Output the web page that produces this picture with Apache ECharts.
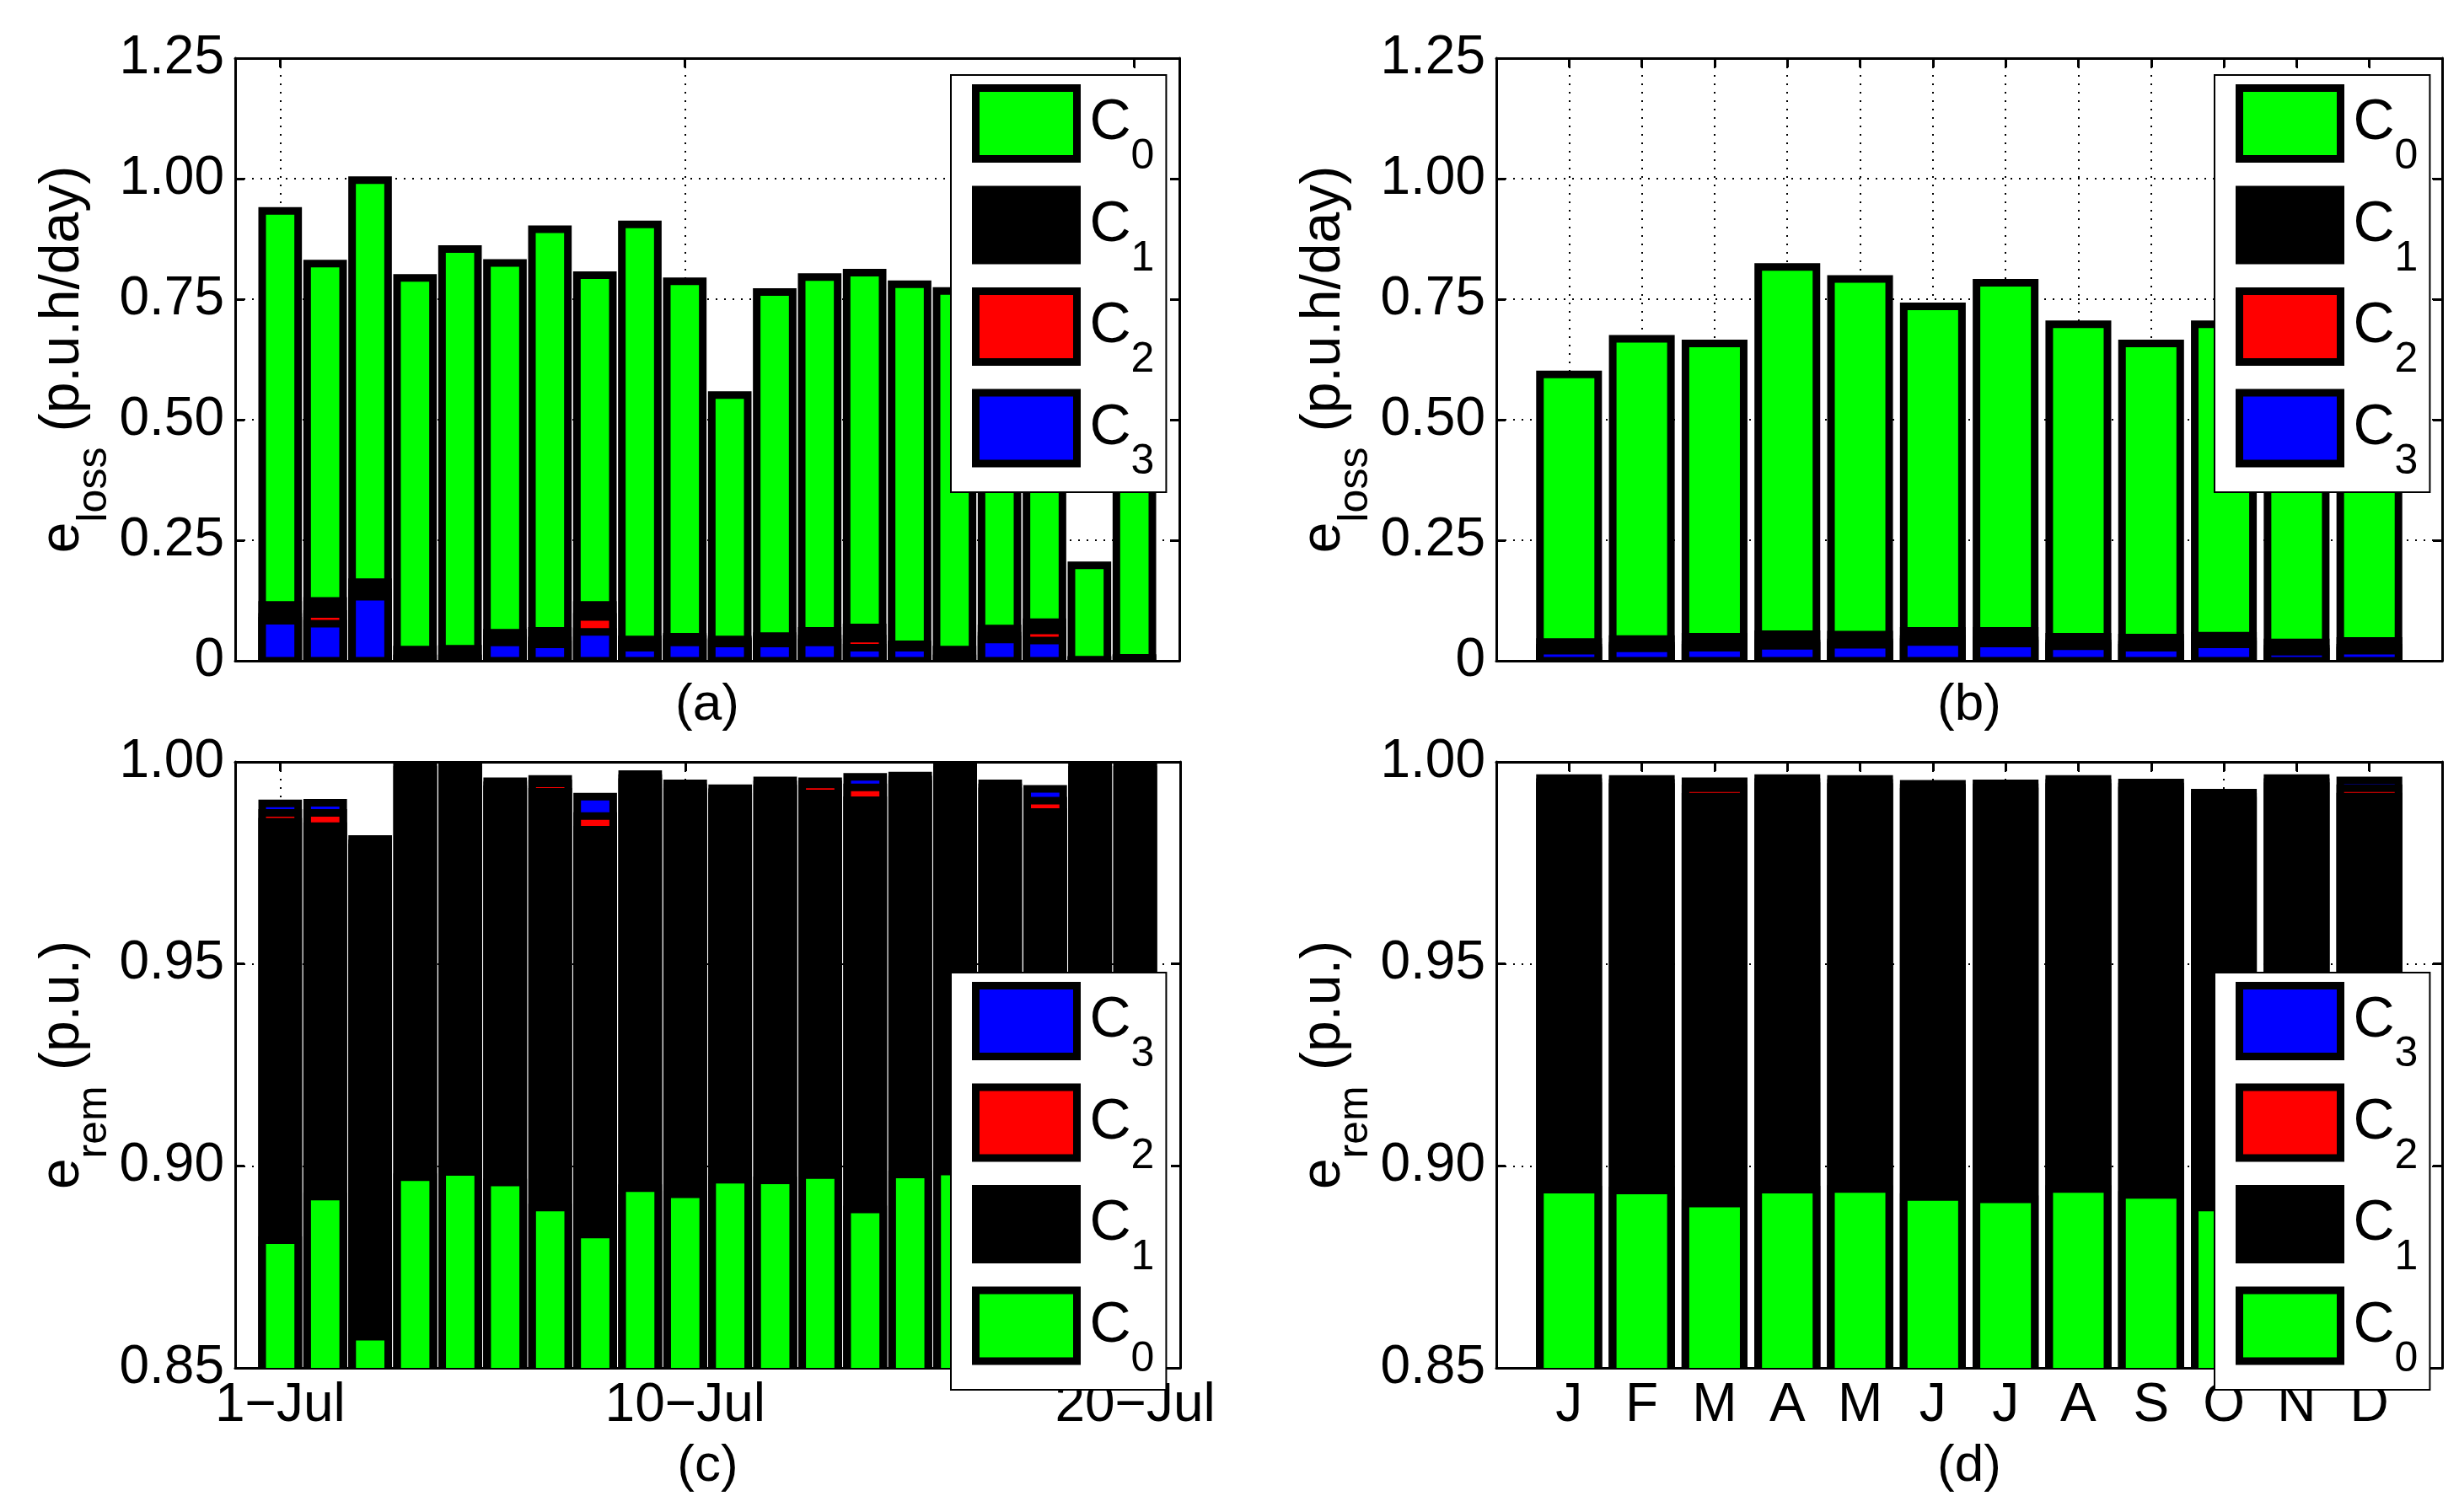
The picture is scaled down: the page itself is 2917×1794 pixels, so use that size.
<!DOCTYPE html>
<html lang="en">
<head>
  <meta charset="UTF-8">
  <title>e_loss / e_rem</title>
  <script src="https://cdnjs.cloudflare.com/ajax/libs/echarts/6.0.0/echarts.min.js"></script>
  <style>
    html, body { margin: 0; padding: 0; background: #fff; }
  </style>
</head>
<body>
  <div id="main" style="width: 2917px;height:1794px;"></div>
<script type="text/javascript">
  // categories and tick labels
  var days = ['1', '2', '3', '4', '5', '6', '7', '8', '9', '10',
              '11', '12', '13', '14', '15', '16', '17', '18', '19', '20'];
  var dayTicks = ['1', '10', '20'];
  var dayTickLabels = ['1\u2212Jul', '10\u2212Jul', '20\u2212Jul'];
  var months = ['J', 'F', 'M', 'A', 'M', 'J', 'J', 'A', 'S', 'O', 'N', 'D'];
  var lossTicks = [0, 0.25, 0.5, 0.75, 1.0, 1.25];
  var remTicks = [0.85, 0.90, 0.95, 1.00];

  // (a) daily e_loss, cumulative per class
  var lossDayC0 = [0.933, 0.824, 0.997, 0.794, 0.854, 0.825, 0.895, 0.800, 0.905, 0.787,
                   0.551, 0.765, 0.796, 0.805, 0.781, 0.767, 0.790, 0.770, 0.198, 0.710];
  var lossDayC1 = [0.116, 0.124, 0.163, 0.023, 0.025, 0.058, 0.062, 0.116, 0.044, 0.050,
                   0.040, 0.051, 0.062, 0.069, 0.032, 0.023, 0.067, 0.080, 0.002, 0.006];
  var lossDayC2 = [0.091, 0.097, 0.141, 0.005, 0.005, 0.046, 0.042, 0.091, 0.034, 0.046,
                   0.044, 0.044, 0.046, 0.046, 0.034, 0.005, 0.052, 0.063, 0.001, 0.004];
  var lossDayC3 = [0.083, 0.077, 0.133, 0, 0, 0.038, 0.034, 0.060, 0.027, 0.038,
                   0.036, 0.036, 0.038, 0.027, 0.027, 0, 0.044, 0.042, 0, 0];

  // (b) monthly e_loss
  var lossMonC0 = [0.594, 0.668, 0.658, 0.817, 0.792, 0.735, 0.784, 0.698, 0.658, 0.698, 0.630, 0.660];
  var lossMonC1 = [0.039, 0.045, 0.050, 0.055, 0.054, 0.062, 0.062, 0.050, 0.048, 0.052, 0.038, 0.041];
  var lossMonC2 = [0.027, 0.031, 0.033, 0.036, 0.038, 0.045, 0.042, 0.036, 0.033, 0.040, 0.025, 0.027];
  var lossMonC3 = [0.021, 0.026, 0.027, 0.031, 0.033, 0.039, 0.036, 0.030, 0.027, 0.034, 0.019, 0.021];

  // (c) daily e_rem
  var remDayC3 = [0.9897, 0.9899, 0.9809, 1.0000, 1.0000, 0.9952, 0.9958, 0.9914, 0.9970, 0.9947,
                  0.9935, 0.9954, 0.9952, 0.9963, 0.9966, 1.0000, 0.9947, 0.9933, 1.0000, 1.0000];
  var remDayC2 = [0.9874, 0.9874, 0.9798, 0.9990, 0.9990, 0.9942, 0.9947, 0.9866, 0.9960, 0.9937,
                  0.9925, 0.9944, 0.9944, 0.9937, 0.9956, 0.9990, 0.9937, 0.9904, 0.9990, 0.9990];
  var remDayC1 = [0.9852, 0.9841, 0.9788, 0.9980, 0.9980, 0.9932, 0.9926, 0.9832, 0.9950, 0.9927,
                  0.9915, 0.9934, 0.9922, 0.9905, 0.9946, 0.9980, 0.9927, 0.9876, 0.9980, 0.9980];
  var remDayC0 = [0.8816, 0.8924, 0.8577, 0.8972, 0.8985, 0.8959, 0.8897, 0.8830, 0.8945, 0.8930,
                  0.8966, 0.8964, 0.8977, 0.8892, 0.8979, 0.8986, 0.8965, 0.8905, 0.8975, 0.8955];

  // (d) monthly e_rem
  var remMonC3 = [0.9960, 0.9958, 0.9952, 0.9960, 0.9958, 0.9946, 0.9947, 0.9958, 0.9949, 0.9924, 0.9960, 0.9954];
  var remMonC2 = [0.9950, 0.9948, 0.9935, 0.9950, 0.9948, 0.9936, 0.9937, 0.9948, 0.9939, 0.9914, 0.9950, 0.9935];
  var remMonC1 = [0.9940, 0.9938, 0.9914, 0.9940, 0.9938, 0.9926, 0.9927, 0.9938, 0.9929, 0.9904, 0.9940, 0.9914];
  var remMonC0 = [0.8941, 0.8939, 0.8907, 0.8941, 0.8943, 0.8923, 0.8917, 0.8943, 0.8928, 0.8897, 0.8930, 0.8920];

  var FONT = "'Liberation Sans', Arial, Helvetica, sans-serif";
  var colors = { C0: '#00ff00', C1: '#000000', C2: '#ff0000', C3: '#0000ff' };
  var EDGE = 9;

  var app = echarts.init(document.getElementById('main'));

  // one empty slot on each side, like the MATLAB x limits [0, n+1]
  function padCats(list) {
    var out = [''];
    list.forEach(function (c, i) { out.push(String(i + 1)); });
    out.push('');
    return out;
  }

  // MATLAB-style bar: edge centred on the outline, clipped by the axes box
  function renderBar(params, api) {
    var idx = api.value(0);
    var top = api.coord([idx, api.value(1)]);
    var base = api.coord([idx, 0]);
    var w = api.size([1, 0])[0] * 0.8;
    return {
      type: 'rect',
      shape: { x: top[0] - w / 2, y: top[1], width: w, height: base[1] - top[1] },
      style: { fill: api.visual('color'), stroke: '#000', lineWidth: EDGE }
    };
  }

  var panels = [
    {
      grid: { left: 279, top: 69, width: 1120, height: 715 },
      cats: days, tickAt: function (i) { return dayTicks.indexOf(String(i)) >= 0; },
      label: null,
      yTicks: lossTicks, yName: '{m|e}{s|loss}{m| (p.u.h/day)}',
      tag: '(a)', tagGap: 22, legend: { left: 1128, top: 89 },
      order: ['C0', 'C1', 'C2', 'C3'],
      values: { C0: lossDayC0, C1: lossDayC1, C2: lossDayC2, C3: lossDayC3 }
    },
    {
      grid: { left: 1775, top: 69, width: 1122, height: 715 },
      cats: months, tickAt: function (i) { return i >= 1 && i <= months.length; },
      label: null,
      yTicks: lossTicks, yName: '{m|e}{s|loss}{m| (p.u.h/day)}',
      tag: '(b)', tagGap: 22, legend: { left: 2627, top: 89 },
      order: ['C0', 'C1', 'C2', 'C3'],
      values: { C0: lossMonC0, C1: lossMonC1, C2: lossMonC2, C3: lossMonC3 }
    },
    {
      grid: { left: 279, top: 904, width: 1121, height: 719 },
      cats: days, tickAt: function (i) { return dayTicks.indexOf(String(i)) >= 0; },
      label: function (i) {
        var k = dayTicks.indexOf(String(i));
        return k >= 0 ? dayTickLabels[k] : '';
      },
      yTicks: remTicks, yName: '{m|e}{s|rem}{m| (p.u.)}',
      tag: '(c)', tagGap: 86, legend: { left: 1128, top: 1154 },
      order: ['C3', 'C2', 'C1', 'C0'],
      values: { C0: remDayC0, C1: remDayC1, C2: remDayC2, C3: remDayC3 }
    },
    {
      grid: { left: 1775, top: 904, width: 1122, height: 719 },
      cats: months, tickAt: function (i) { return i >= 1 && i <= months.length; },
      label: function (i) { return months[i - 1] || ''; },
      yTicks: remTicks, yName: '{m|e}{s|rem}{m| (p.u.)}',
      tag: '(d)', tagGap: 86, legend: { left: 2627, top: 1154 },
      order: ['C3', 'C2', 'C1', 'C0'],
      values: { C0: remMonC0, C1: remMonC1, C2: remMonC2, C3: remMonC3 }
    }
  ];

  var lineBlack = { color: '#000', width: 3 };
  var dotted = { color: '#000', width: 2, type: [2, 8] };

  var option = {
    animation: false,
    backgroundColor: '#fff',
    grid: [], xAxis: [], yAxis: [], legend: [], series: []
  };

  panels.forEach(function (p, gi) {
    var data = padCats(p.cats);
    var tickFn = function (i) { return p.tickAt(i); };
    var yMin = p.yTicks[0], yMax = p.yTicks[p.yTicks.length - 1];
    var yStep = p.yTicks[1] - p.yTicks[0];

    option.grid.push(p.grid);

    option.xAxis.push({
      gridIndex: gi, type: 'category', boundaryGap: false, data: data, position: 'bottom',
      axisLine: { onZero: false, lineStyle: lineBlack },
      axisTick: { show: true, inside: true, length: 11, interval: tickFn, lineStyle: lineBlack },
      axisLabel: {
        show: !!p.label, interval: tickFn, margin: 13,
        fontSize: 64, fontFamily: FONT, color: '#000',
        formatter: function (v, i) { return p.label ? p.label(i) : ''; }
      },
      splitLine: { show: true, interval: tickFn, lineStyle: dotted },
      name: p.tag, nameLocation: 'middle', nameGap: p.tagGap,
      nameTextStyle: { fontSize: 62, lineHeight: 62, fontFamily: FONT, color: '#000' }
    });
    option.xAxis.push({
      gridIndex: gi, type: 'category', boundaryGap: false, data: data, position: 'top',
      axisLine: { onZero: false, lineStyle: lineBlack },
      axisTick: { show: true, inside: true, length: 11, interval: tickFn, lineStyle: lineBlack },
      axisLabel: { show: false },
      splitLine: { show: false }
    });

    option.yAxis.push({
      gridIndex: gi, type: 'value', min: yMin, max: yMax, interval: yStep, position: 'left',
      axisLine: { show: true, lineStyle: lineBlack },
      axisTick: { show: true, inside: true, length: 11, lineStyle: lineBlack },
      axisLabel: {
        margin: 13, fontSize: 64, fontFamily: FONT, color: '#000',
        formatter: function (v) { return Math.abs(v) < 1e-9 ? '0' : v.toFixed(2); }
      },
      splitLine: { show: true, lineStyle: dotted },
      name: p.yName, nameLocation: 'middle', nameRotate: 90, nameGap: 163,
      nameTextStyle: {
        fontFamily: FONT, color: '#000',
        rich: {
          m: { fontSize: 66, lineHeight: 66, verticalAlign: 'top', fontFamily: FONT, color: '#000' },
          s: { fontSize: 50, lineHeight: 50, verticalAlign: 'top', padding: [46, 0, 0, 0], fontFamily: FONT, color: '#000' }
        }
      }
    });
    option.yAxis.push({
      gridIndex: gi, type: 'value', min: yMin, max: yMax, interval: yStep, position: 'right',
      axisLine: { show: true, lineStyle: lineBlack },
      axisTick: { show: true, inside: true, length: 11, lineStyle: lineBlack },
      axisLabel: { show: false },
      splitLine: { show: false }
    });

    // drawn in order, each bar over the previous one
    p.order.forEach(function (name) {
      option.series.push({
        name: name, type: 'custom',
        xAxisIndex: gi * 2, yAxisIndex: gi * 2,
        clip: true,
        renderItem: renderBar,
        itemStyle: { color: colors[name], borderColor: '#000', borderWidth: EDGE },
        encode: { x: 0, y: 1 },
        emphasis: { disabled: true },
        data: p.values[name].map(function (v, i) { return [i + 1, v]; })
      });
    });

    option.legend.push({
      orient: 'vertical', left: p.legend.left, top: p.legend.top,
      data: p.order, icon: 'rect', selectedMode: false,
      itemWidth: 120, itemHeight: 84, itemGap: 9,
      padding: [11, 14, 11, 25],
      backgroundColor: '#fff', borderColor: '#000', borderWidth: 2,
      itemStyle: { borderColor: '#000', borderWidth: EDGE },
      formatter: function (n) { return '{c|C}{s|' + n.slice(1) + '}'; },
      textStyle: {
        fontFamily: FONT, color: '#000',
        rich: {
          c: { fontSize: 68, lineHeight: 68, verticalAlign: 'top', padding: [0, 0, 0, 10], fontFamily: FONT, color: '#000' },
          s: { fontSize: 50, lineHeight: 50, verticalAlign: 'top', padding: [49, 0, 0, 0], fontFamily: FONT, color: '#000' }
        }
      }
    });
  });

  app.setOption(option);
</script>
</body>
</html>
